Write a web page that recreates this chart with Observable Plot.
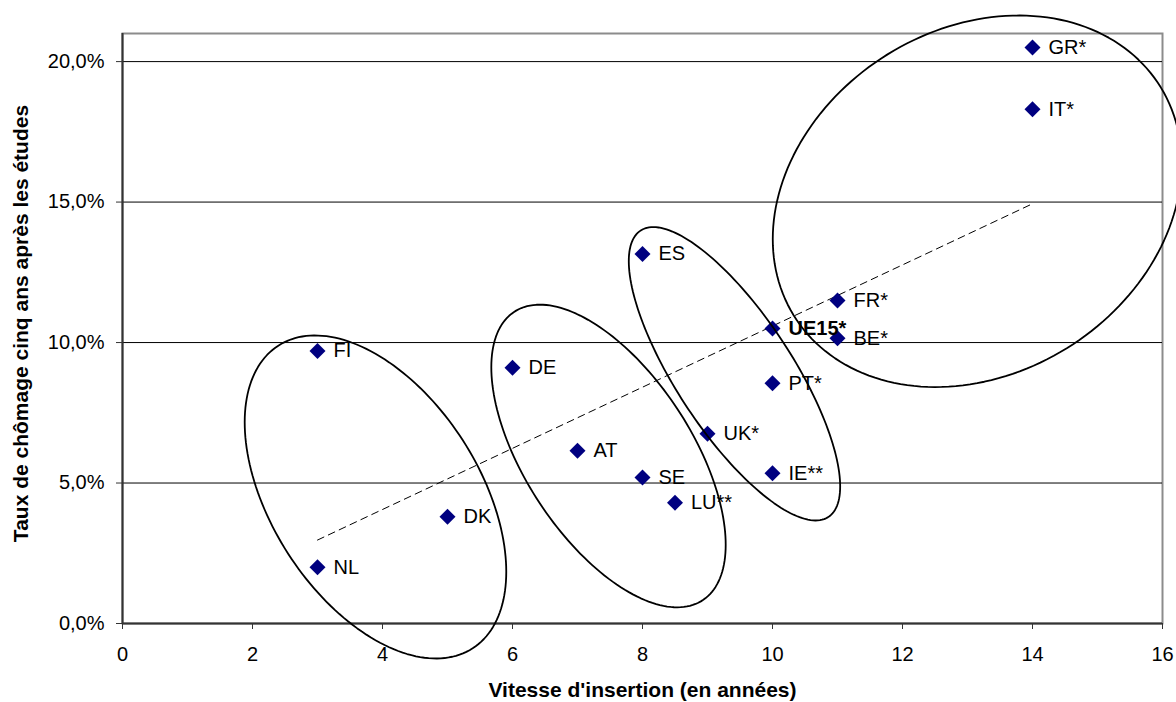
<!DOCTYPE html>
<html lang="fr">
<head>
<meta charset="utf-8">
<script src="https://cdn.jsdelivr.net/npm/d3@7"></script>
<script src="https://cdn.jsdelivr.net/npm/@observablehq/plot@0.6"></script>
<style>
  html, body { margin: 0; padding: 0; background: #fff; }
  #chart svg { display: block; overflow: visible; }
</style>
</head>
<body>
<div id="chart"></div>
<script>
// Pays, vitesse d'insertion (années) et taux de chômage cinq ans après les études (%)
const codes = ["NL", "DK", "FI", "DE", "AT", "SE", "LU**", "ES", "UK*", "PT*", "IE**", "UE15*", "FR*", "BE*", "IT*", "GR*"];
const insertionYears = [3, 5, 3, 6, 7, 8, 8.5, 8, 9, 10, 10, 10, 11, 11, 14, 14];
const unemploymentRate = [2.0, 3.8, 9.7, 9.1, 6.15, 5.2, 4.3, 13.15, 6.75, 8.55, 5.35, 10.5, 11.5, 10.15, 18.3, 20.5];

// Axis ticks
const xTicks = [0, 2, 4, 6, 8, 10, 12, 14, 16];
const yTicks = [0, 5, 10, 15, 20];

// Linear trend (end points)
const trendX = [3, 14];
const trendY = [2.97, 14.94];

// Country groups circled on the chart: centre and two conjugate semi-diameters, in data units
const groupIds = ["nord", "continental", "sud-ouest", "sud"];
const groupCx = [3.892, 7.477, 9.415, 13.149];
const groupCy = [4.503, 5.962, 8.888, 15.028];
const groupUx = [2.012, 1.803, 1.626, 3.145];
const groupUy = [-2.659, -3.157, -4.008, 1.345];
const groupVy = [5.097, 4.364, 3.346, 6.474];

const points = codes.map((code, i) => ({code, x: insertionYears[i], y: unemploymentRate[i]}));
const trend = trendX.map((x, i) => ({x, y: trendY[i]}));

// Outline of each group ellipse: P(t) = C + u cos t + v sin t
const ellipses = [];
groupIds.forEach((id, i) => {
  const n = 180;
  for (let k = 0; k <= n; k++) {
    const t = 2 * Math.PI * k / n;
    ellipses.push({
      id,
      x: groupCx[i] + groupUx[i] * Math.cos(t),
      y: groupCy[i] + groupUy[i] * Math.cos(t) + groupVy[i] * Math.sin(t)
    });
  }
});

const pct = d => d.toFixed(1).replace(".", ",") + "%";
const font = "'Liberation Sans', Arial, Helvetica, sans-serif";

const chart = Plot.plot({
  width: 1176,
  height: 702,
  marginLeft: 122,
  marginRight: 14,
  marginTop: 33,
  marginBottom: 79,
  style: {fontFamily: font, fontSize: "20px", color: "#000", background: "#fff"},
  x: {domain: [0, 16]},
  y: {domain: [0, 21]},
  marks: [
    Plot.frame({stroke: "#8c8c8c", strokeWidth: 2}),
    Plot.ruleY(yTicks.filter(d => d > 0), {stroke: "#000", strokeWidth: 1}),
    Plot.ruleX([0], {stroke: "#333", strokeWidth: 2}),
    Plot.ruleY([0], {stroke: "#333", strokeWidth: 2}),
    Plot.axisY({ticks: yTicks, tickFormat: pct, tickSize: 6, tickPadding: 12, fontSize: 20, label: null, stroke: "#333"}),
    Plot.axisX({ticks: xTicks, tickFormat: d => String(d), tickSize: 6, tickPadding: 17, fontSize: 20, label: null, stroke: "#333"}),
    Plot.text(["Vitesse d'insertion (en années)"], {frameAnchor: "bottom", lineAnchor: "middle", dy: 67, fontWeight: "bold", fontSize: 21}),
    Plot.text(["Taux de chômage cinq ans après les études"], {frameAnchor: "left", textAnchor: "middle", lineAnchor: "middle", rotate: -90, dx: -101, dy: -5, fontWeight: "bold", fontSize: 21}),
    Plot.line(trend, {x: "x", y: "y", stroke: "#000", strokeWidth: 1, strokeDasharray: "7,5"}),
    Plot.dot(points, {x: "x", y: "y", symbol: "diamond2", r: 7.2, fill: "#000080", stroke: "none"}),
    Plot.text(points.filter(d => d.code !== "UE15*"), {x: "x", y: "y", text: "code", dx: 16, textAnchor: "start", fontSize: 20}),
    Plot.text(points.filter(d => d.code === "UE15*"), {x: "x", y: "y", text: "code", dx: 16, textAnchor: "start", fontSize: 20, fontWeight: "bold"}),
    Plot.line(ellipses, {x: "x", y: "y", z: "id", stroke: "#000", strokeWidth: 1.8})
  ]
});

document.getElementById("chart").appendChild(chart);
</script>
</body>
</html>
